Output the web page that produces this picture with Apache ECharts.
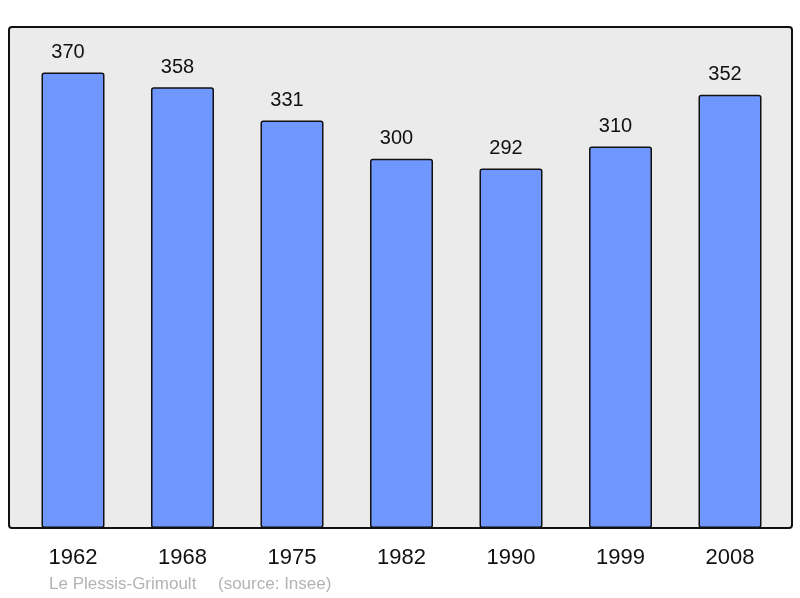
<!DOCTYPE html>
<html>
<head>
<meta charset="utf-8">
<script src="https://cdn.jsdelivr.net/npm/echarts@6/dist/echarts.min.js"></script>
<style>
html,body{margin:0;padding:0;background:#fff;}
#chart{width:800px;height:598px;}
</style>
</head>
<body>
<div id="chart"></div>
<script>
const years = ['1962', '1968', '1975', '1982', '1990', '1999', '2008'];
const population = [370, 358, 331, 300, 292, 310, 352];
const footerName = 'Le Plessis-Grimoult';
const footerSource = '(source: Insee)';

const chart = echarts.init(document.getElementById('chart'), null, {renderer: 'canvas'});
chart.setOption({
  animation: false,
  backgroundColor: '#ffffff',
  graphic: [
    {
      type: 'rect', z: -10,
      shape: {x: 9, y: 27, width: 783, height: 501, r: 3},
      style: {fill: '#ebebeb', stroke: '#111', lineWidth: 2}
    },
    {
      type: 'text', left: 49, top: 576,
      style: {text: footerName, fill: '#b3b3b3', font: '17px "Liberation Sans", Arial, sans-serif'}
    },
    {
      type: 'text', left: 218, top: 576,
      style: {text: footerSource, fill: '#b3b3b3', font: '17px "Liberation Sans", Arial, sans-serif'}
    }
  ],
  grid: {left: 18.25, right: 15.25, top: 27, bottom: 70},
  xAxis: {
    type: 'category',
    data: years,
    axisLine: {show: false},
    axisTick: {show: false},
    axisLabel: {margin: 18.5, color: '#111', fontSize: 22, fontFamily: '"Liberation Sans", Arial, sans-serif'}
  },
  yAxis: {
    type: 'value', min: 0, max: 407,
    show: false,
    splitLine: {show: false}
  },
  series: [{
    type: 'bar',
    data: population,
    barWidth: 63,
    itemStyle: {color: '#7097ff', borderColor: '#111', borderWidth: 1.5, borderRadius: 2},
    label: {
      show: true, position: 'top', distance: 10, offset: [-5, 0],
      color: '#111', fontSize: 20, fontFamily: '"Liberation Sans", Arial, sans-serif'
    }
  }]
});
</script>
</body>
</html>
